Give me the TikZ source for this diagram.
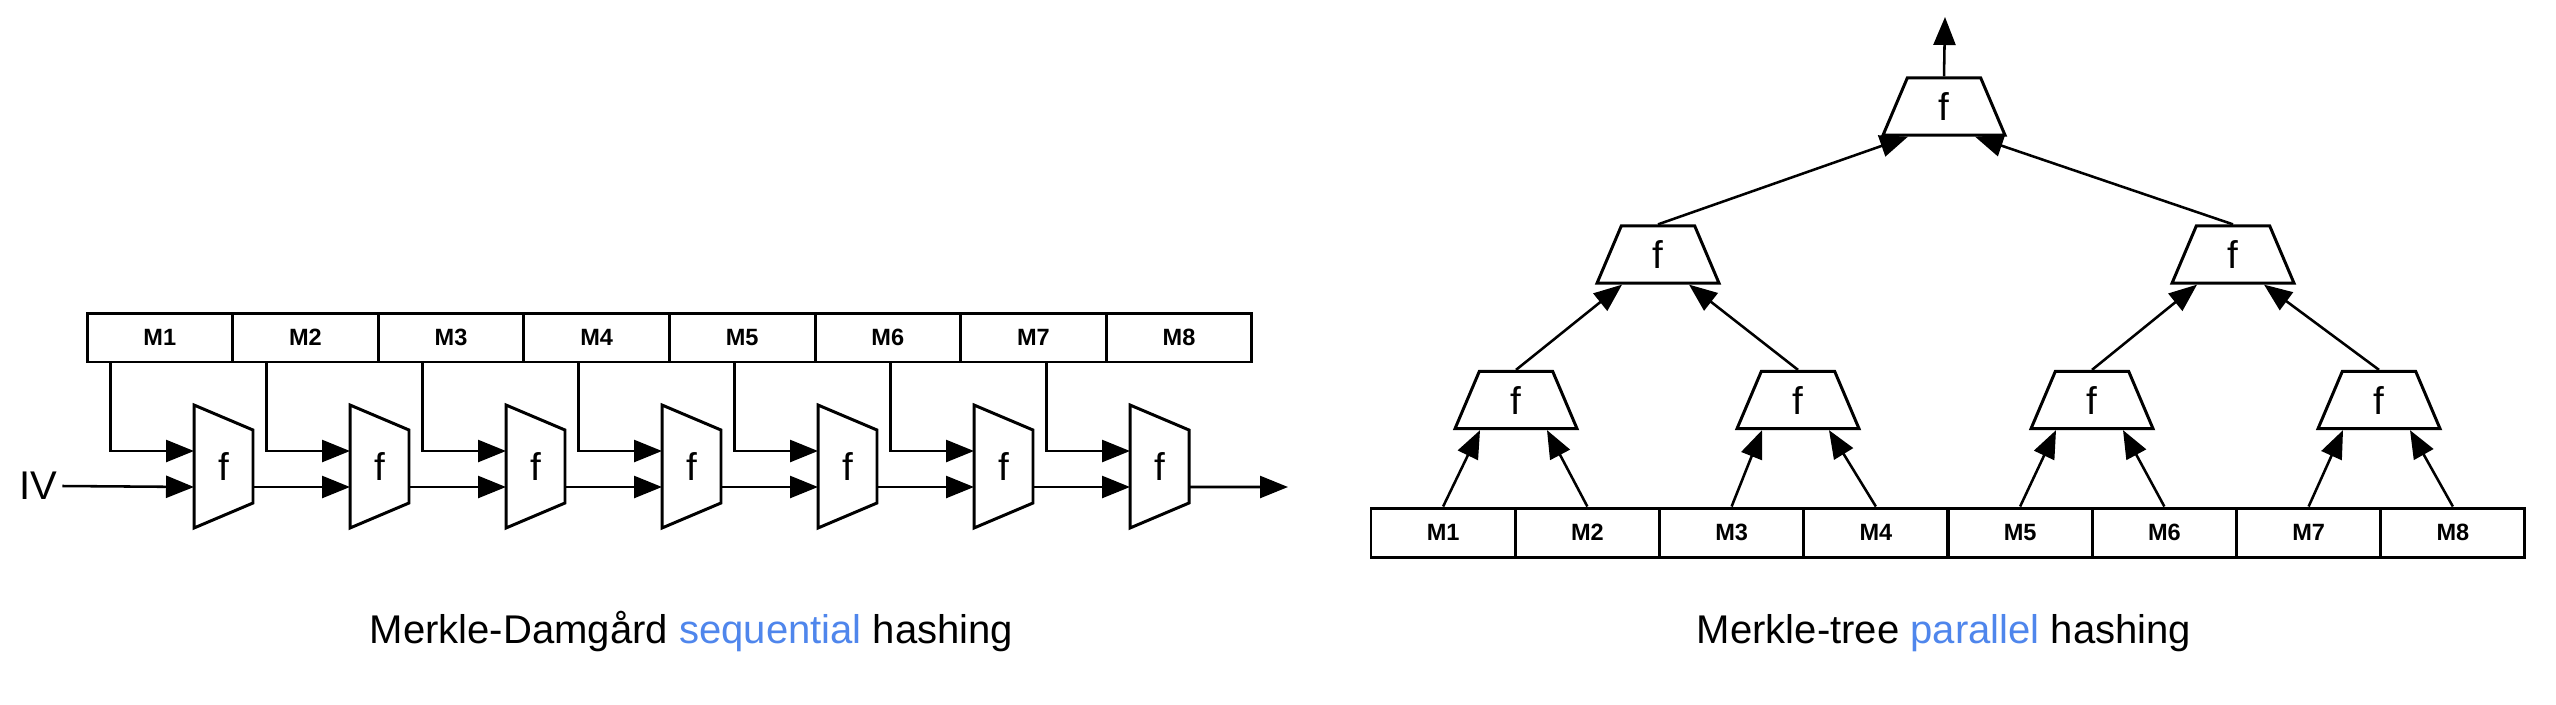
\documentclass[tikz,border=0pt]{standalone}
\usepackage{fontspec}
\setmainfont{Liberation Sans}
\usetikzlibrary{arrows.meta,positioning,shapes.geometric}
\definecolor{ink}{HTML}{000000}
\definecolor{blue}{HTML}{4F86EC}
\tikzset{
  flow/.style={-{Triangle[length=0.56cm,width=0.44cm]},line width=1.45pt,draw=ink},
  cell/.style={draw=ink,line width=1.7pt,minimum height=0.98cm,inner sep=0pt,
               font=\bfseries\fontsize{13.4}{15}\selectfont},
  fbox/.style={trapezium,trapezium stretches body,trapezium left angle=67,
               trapezium right angle=67,draw=ink,line width=1.7pt,
               inner xsep=13.7pt,inner ysep=8.3pt,text height=16pt,text depth=0pt,
               minimum width=2.44cm,minimum height=1.14cm,font=\fontsize{22}{24}\selectfont},
  fside/.style={fbox,shape border rotate=270,minimum width=2.46cm,minimum height=1.18cm},
  caption/.style={anchor=base,font=\fontsize{22.8}{27}\selectfont},
}
\begin{document}
\begin{tikzpicture}[x=0.02cm,y=-0.02cm]
  \useasboundingbox (0,0) rectangle (2556,704);
  % Merkle-Damgard chain
  \foreach \i in {1,...,8}
    \node[cell,minimum width=2.912cm] (s\i) at ({159.8+145.6*(\i-1)},337.5) {M\i};
  \foreach \i in {1,...,7}
    \node[fside] (g\i) at ({223.5+156*(\i-1)},466.5) {f};
  \node[font=\fontsize{22.8}{27}\selectfont,inner sep=0.1cm] (iv) at (38,486) {IV};
  \coordinate (sout) at (1288,487);
  \foreach \i in {1,...,7}
    \draw[flow] ([xshift=-2.26cm]g\i.center |- s\i.south) |- ([xshift=-0.59cm,yshift=0.31cm]g\i.center);
  \draw[flow] (iv.east) -- ([xshift=-0.59cm,yshift=-0.41cm]g1.center);
  \foreach \i/\j in {1/2,2/3,3/4,4/5,5/6,6/7}
    \draw[flow] ([xshift=0.59cm,yshift=-0.41cm]g\i.center) -- ([xshift=-0.59cm,yshift=-0.41cm]g\j.center);
  \draw[flow] ([xshift=0.59cm,yshift=-0.41cm]g7.center) -- (sout);
  \node[caption] (capl) at (691.5,643) {Merkle-Damgård \textcolor{blue}{sequential} hashing};
  % Merkle tree
  \foreach \i in {1,...,8}
    \node[cell,minimum width=2.885cm] (p\i) at ({1443.1+144.25*(\i-1)},532.5) {M\i};
  \node[fbox] (q1) at (1516,400) {f};
  \node[fbox] (q2) at (1798,400) {f};
  \node[fbox] (q3) at (2092,400) {f};
  \node[fbox] (q4) at (2379,400) {f};
  \node[fbox] (r1) at (1658,254.5) {f};
  \node[fbox] (r2) at (2233,254.5) {f};
  \node[fbox] (root) at (1944,106.5) {f};
  \coordinate (tout) at (1945,17);
  \foreach \k/\a/\b in {1/1/2,2/3/4,3/5/6,4/7/8} {
    \draw[flow] (p\a.north) -- ([xshift=-0.72cm]q\k.south);
    \draw[flow] (p\b.north) -- ([xshift=0.62cm]q\k.south);
  }
  \draw[flow] (q1.north) -- ([xshift=-0.72cm]r1.south);
  \draw[flow] (q2.north) -- ([xshift=0.62cm]r1.south);
  \draw[flow] (q3.north) -- ([xshift=-0.72cm]r2.south);
  \draw[flow] (q4.north) -- ([xshift=0.62cm]r2.south);
  \draw[flow] (r1.north) -- ([xshift=-0.72cm]root.south);
  \draw[flow] (r2.north) -- ([xshift=0.62cm]root.south);
  \draw[flow] (root.north) -- (tout);
  \node[caption] (capr) at (1944,643) {Merkle-tree \textcolor{blue}{parallel} hashing};
\end{tikzpicture}
\end{document}
